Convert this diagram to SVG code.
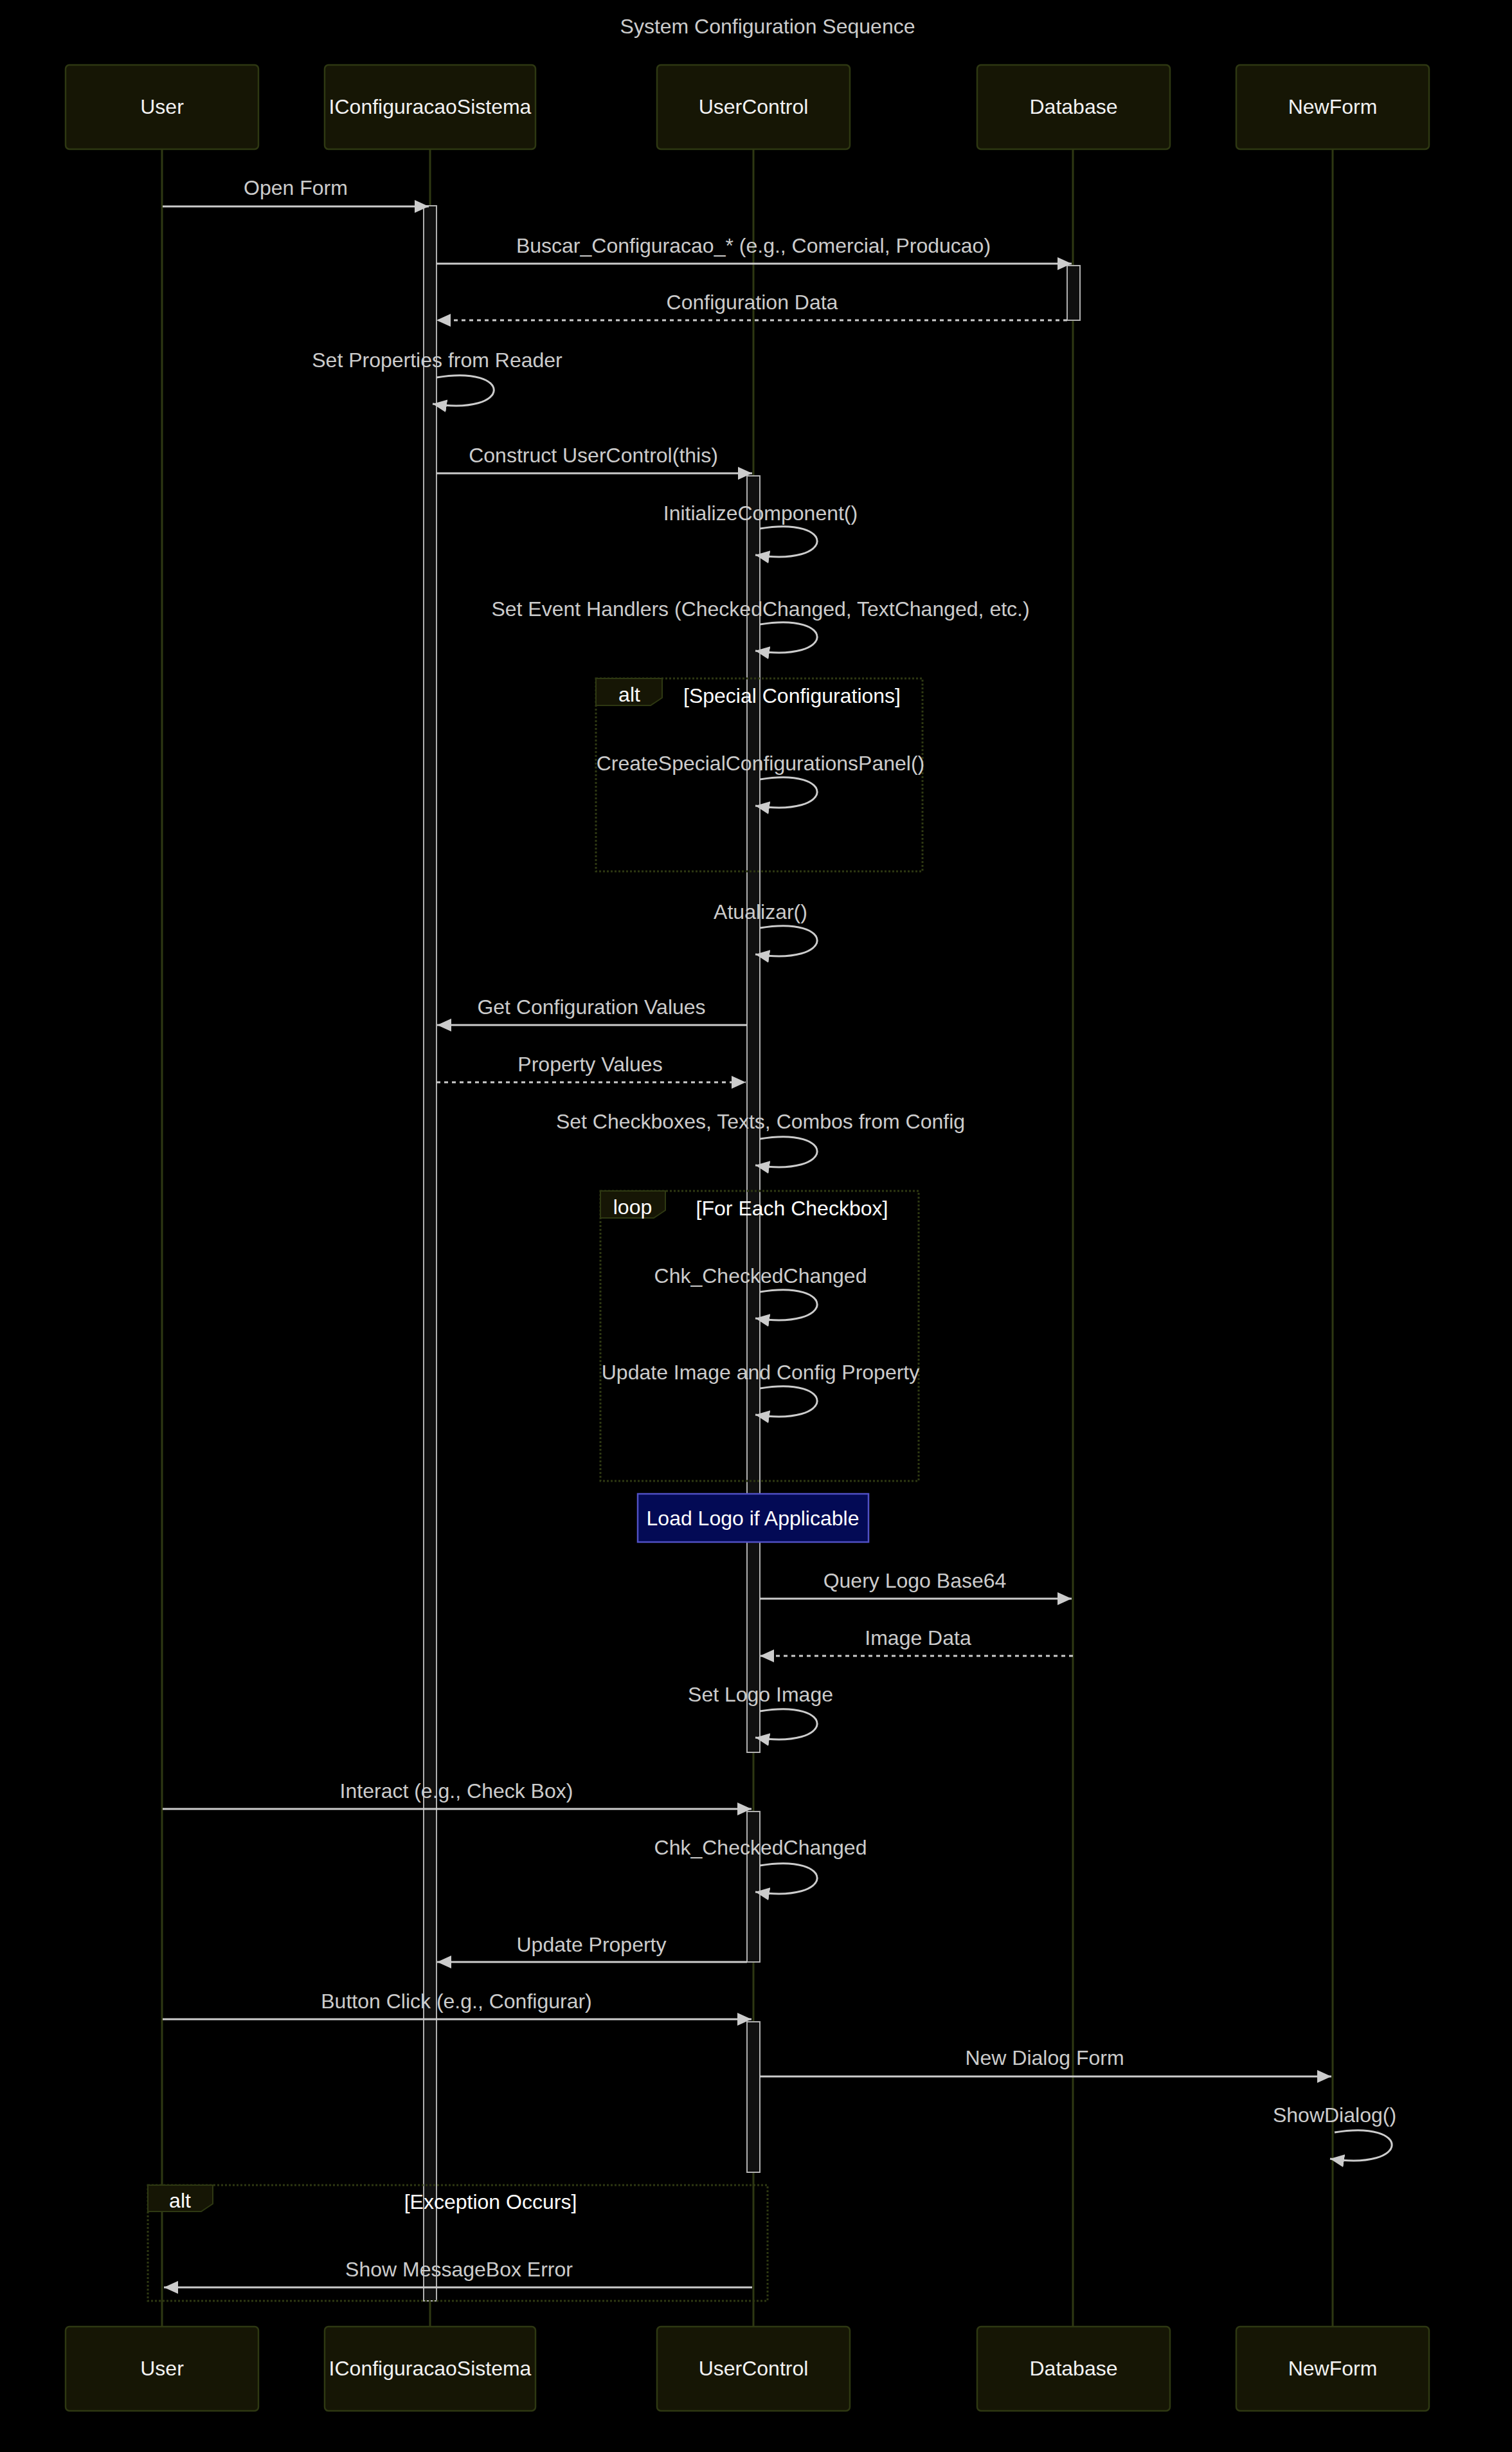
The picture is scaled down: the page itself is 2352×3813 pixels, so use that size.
<svg xmlns="http://www.w3.org/2000/svg" width="2352" height="3813" viewBox="0 0 2352 3813">
<defs>
<marker id="arrowhead" markerUnits="userSpaceOnUse" markerWidth="24" markerHeight="24" refX="22" refY="10" orient="auto">
<path d="M0,0 L22,10 L0,20 z" fill="#cccccc"/>
</marker>
</defs>
<style>
text{font-family:"Liberation Sans",Arial,sans-serif;font-size:32px}
.actor rect{fill:#161605;stroke:#2e3812;stroke-width:2.5}
.actor text{fill:#f2f2f2;text-anchor:middle;dominant-baseline:central}
.lifeline{stroke:#2e3812;stroke-width:3}
.act{fill:#101010;stroke:#b0b0b0;stroke-width:2}
.msg{stroke:#cccccc;stroke-width:3;fill:none;marker-end:url(#arrowhead)}
.dash{stroke-dasharray:6,6}
.lbl{fill:#cccccc;text-anchor:middle;dominant-baseline:central}
.frame{fill:none;stroke:#2e3812;stroke-width:3;stroke-dasharray:3,3}
.tab{fill:#161605;stroke:#2e3812;stroke-width:2}
.ftxt{fill:#ffffff;text-anchor:middle;dominant-baseline:central}
.note rect{fill:#030a55;stroke:#5050c4;stroke-width:2.5}
.note text{fill:#ffffff;text-anchor:middle;dominant-baseline:central}
</style>
<rect x="0" y="0" width="2352" height="3813" fill="#000000"/>
<text x="1194" y="41" class="lbl">System Configuration Sequence</text>

<g id="lifelines">
<line class="lifeline" x1="252" y1="232" x2="252" y2="3618"/>
<line class="lifeline" x1="669" y1="232" x2="669" y2="3618"/>
<line class="lifeline" x1="1172" y1="232" x2="1172" y2="3618"/>
<line class="lifeline" x1="1669" y1="232" x2="1669" y2="3618"/>
<line class="lifeline" x1="2073" y1="232" x2="2073" y2="3618"/>
</g>

<g id="actor-User" class="actor"><rect x="102" y="101" width="300" height="131" rx="6"/><text x="252" y="166">User</text></g>
<g id="actor-IConfiguracaoSistema" class="actor"><rect x="505" y="101" width="328" height="131" rx="6"/><text x="669" y="166">IConfiguracaoSistema</text></g>
<g id="actor-UserControl" class="actor"><rect x="1022" y="101" width="300" height="131" rx="6"/><text x="1172" y="166">UserControl</text></g>
<g id="actor-Database" class="actor"><rect x="1520" y="101" width="300" height="131" rx="6"/><text x="1670" y="166">Database</text></g>
<g id="actor-NewForm" class="actor"><rect x="1923" y="101" width="300" height="131" rx="6"/><text x="2073" y="166">NewForm</text></g>

<g id="actor-User-bottom" class="actor"><rect x="102" y="3618" width="300" height="131" rx="6"/><text x="252" y="3683">User</text></g>
<g id="actor-IConfiguracaoSistema-bottom" class="actor"><rect x="505" y="3618" width="328" height="131" rx="6"/><text x="669" y="3683">IConfiguracaoSistema</text></g>
<g id="actor-UserControl-bottom" class="actor"><rect x="1022" y="3618" width="300" height="131" rx="6"/><text x="1172" y="3683">UserControl</text></g>
<g id="actor-Database-bottom" class="actor"><rect x="1520" y="3618" width="300" height="131" rx="6"/><text x="1670" y="3683">Database</text></g>
<g id="actor-NewForm-bottom" class="actor"><rect x="1923" y="3618" width="300" height="131" rx="6"/><text x="2073" y="3683">NewForm</text></g>

<g id="activations">
<rect class="act" x="659" y="320" width="20" height="3258"/>
<rect class="act" x="1660" y="413" width="20" height="85"/>
<rect class="act" x="1162" y="740" width="20" height="1985"/>
<rect class="act" x="1162" y="2817" width="20" height="234"/>
<rect class="act" x="1162" y="3144" width="20" height="234"/>
</g>

<g id="frame-alt-special">
<rect class="frame" x="927" y="1055" width="508" height="300"/>
<path class="tab" d="M927,1055 L1030,1055 L1030,1085 L1012,1097 L927,1097 Z"/>
<text class="ftxt" x="979" y="1080">alt</text>
<text class="ftxt" x="1232" y="1082">[Special Configurations]</text>
</g>
<g id="frame-loop-checkbox">
<rect class="frame" x="934" y="1852" width="495" height="451"/>
<path class="tab" d="M934,1852 L1035,1852 L1035,1882 L1017,1894 L934,1894 Z"/>
<text class="ftxt" x="984" y="1877">loop</text>
<text class="ftxt" x="1232" y="1879">[For Each Checkbox]</text>
</g>
<g id="frame-alt-exception">
<rect class="frame" x="230" y="3398" width="964" height="180"/>
<path class="tab" d="M230,3398 L331,3398 L331,3427 L313,3439 L230,3439 Z"/>
<text class="ftxt" x="280" y="3422">alt</text>
<text class="ftxt" x="763" y="3424">[Exception Occurs]</text>
</g>

<g id="note-load-logo" class="note">
<rect x="992" y="2323" width="359" height="75"/>
<text x="1171" y="2361">Load Logo if Applicable</text>
</g>

<g id="connectors">
<line class="msg" x1="253" y1="321" x2="667" y2="321"/>
<text class="lbl" x="460" y="292">Open Form</text>

<line class="msg" x1="679" y1="410" x2="1667" y2="410"/>
<text class="lbl" x="1172" y="382">Buscar_Configuracao_* (e.g., Comercial, Producao)</text>

<line class="msg dash" x1="1660" y1="498" x2="679" y2="498"/>
<text class="lbl" x="1170" y="470">Configuration Data</text>

<path class="msg" d="M679,587 C799,567 799,647 673,628"/>
<text class="lbl" x="680" y="560">Set Properties from Reader</text>

<line class="msg" x1="679" y1="736" x2="1170" y2="736"/>
<text class="lbl" x="923" y="708">Construct UserControl(this)</text>

<path class="msg" d="M1182,822 C1302,802 1302,882 1175,863"/>
<text class="lbl" x="1183" y="798">InitializeComponent()</text>

<path class="msg" d="M1182,971 C1302,951 1302,1031 1175,1012"/>
<text class="lbl" x="1183" y="947">Set Event Handlers (CheckedChanged, TextChanged, etc.)</text>

<path class="msg" d="M1182,1212 C1302,1192 1302,1272 1175,1253"/>
<text class="lbl" x="1183" y="1187">CreateSpecialConfigurationsPanel()</text>

<path class="msg" d="M1182,1443 C1302,1423 1302,1503 1175,1484"/>
<text class="lbl" x="1183" y="1418">Atualizar()</text>

<line class="msg" x1="1162" y1="1594" x2="680" y2="1594"/>
<text class="lbl" x="920" y="1566">Get Configuration Values</text>

<line class="msg dash" x1="679" y1="1683" x2="1160" y2="1683"/>
<text class="lbl" x="918" y="1655">Property Values</text>

<path class="msg" d="M1182,1771 C1302,1751 1302,1831 1175,1812"/>
<text class="lbl" x="1183" y="1744">Set Checkboxes, Texts, Combos from Config</text>

<path class="msg" d="M1182,2009 C1302,1989 1302,2069 1175,2050"/>
<text class="lbl" x="1183" y="1984">Chk_CheckedChanged</text>

<path class="msg" d="M1182,2159 C1302,2139 1302,2219 1175,2200"/>
<text class="lbl" x="1183" y="2134">Update Image and Config Property</text>

<line class="msg" x1="1182" y1="2486" x2="1667" y2="2486"/>
<text class="lbl" x="1423" y="2458">Query Logo Base64</text>

<line class="msg dash" x1="1669" y1="2575" x2="1182" y2="2575"/>
<text class="lbl" x="1428" y="2547">Image Data</text>

<path class="msg" d="M1182,2661 C1302,2641 1302,2721 1175,2702"/>
<text class="lbl" x="1183" y="2635">Set Logo Image</text>

<line class="msg" x1="253" y1="2813" x2="1169" y2="2813"/>
<text class="lbl" x="710" y="2785">Interact (e.g., Check Box)</text>

<path class="msg" d="M1182,2901 C1302,2881 1302,2961 1175,2942"/>
<text class="lbl" x="1183" y="2873">Chk_CheckedChanged</text>

<line class="msg" x1="1162" y1="3051" x2="680" y2="3051"/>
<text class="lbl" x="920" y="3024">Update Property</text>

<line class="msg" x1="253" y1="3140" x2="1169" y2="3140"/>
<text class="lbl" x="710" y="3112">Button Click (e.g., Configurar)</text>

<line class="msg" x1="1182" y1="3229" x2="2071" y2="3229"/>
<text class="lbl" x="1625" y="3200">New Dialog Form</text>

<path class="msg" d="M2076,3316 C2196,3296 2196,3376 2069,3357"/>
<text class="lbl" x="2076" y="3289">ShowDialog()</text>

<line class="msg" x1="1170" y1="3557" x2="255" y2="3557"/>
<text class="lbl" x="714" y="3529">Show MessageBox Error</text>
</g>
</svg>
